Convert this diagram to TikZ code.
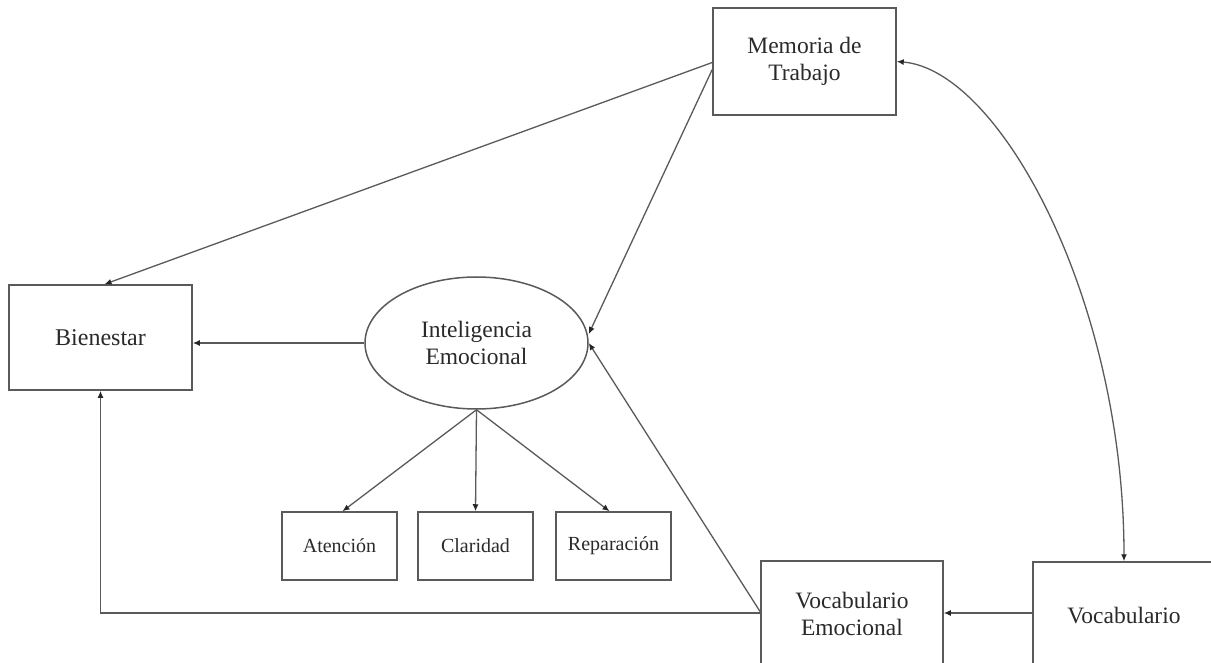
\documentclass[tikz,border=0pt]{standalone}
\usepackage{fontspec}
\setmainfont{Liberation Serif}
\usetikzlibrary{shapes.geometric,arrows.meta}
\definecolor{ln}{HTML}{5A5A5A}
\definecolor{tx}{HTML}{2A2A2A}
\tikzset{
  box/.style={draw=ln,line width=1.5pt,rectangle,inner sep=0pt,align=center,text=tx,font=\fontsize{23.5}{27}\selectfont},
  smallbox/.style={box,font=\fontsize{20}{24}\selectfont},
  latent/.style={draw=ln,line width=1.5pt,ellipse,inner sep=0pt,align=center,text=tx,font=\fontsize{23.5}{27}\selectfont},
  tip/.tip={Latex[length=7pt,width=6pt,color=black!85]},
  arr/.style={draw=ln,line width=1.3pt,-tip},
  darr/.style={draw=ln,line width=1.3pt,tip-tip}
}
\begin{document}
\begin{tikzpicture}[x=1pt,y=-1pt]
\useasboundingbox (0,0) rectangle (1211,663);
\clip (0,0) rectangle (1211,663);
\fill[white] (0,0) rectangle (1211,663);
\node[box,minimum width=183pt,minimum height=107pt] (mem) at (804.5,61.5) {Memoria de\\Trabajo};
\node[box,font=\fontsize{24}{28}\selectfont,minimum width=183pt,minimum height=105pt] (bien) at (100.5,337.5) {Bienestar};
\node[latent,minimum width=223pt,minimum height=132pt] (ie) at (476.5,343) {Inteligencia\\Emocional};
\node[smallbox,minimum width=115pt,minimum height=68pt] (atn) at (339.5,546) {Atención};
\node[smallbox,minimum width=115pt,minimum height=68pt] (clar) at (475.5,546) {Claridad};
\node[smallbox,minimum width=115pt,minimum height=68pt] (rep) at (613.5,546) {Reparación};
\node[box,minimum width=182pt,minimum height=120pt] (ve) at (852,621) {};
\node[text=tx,align=center,font=\fontsize{23.5}{27}\selectfont] (vet) at (852,614) {Vocabulario\\Emocional};
\node[box,minimum width=192pt,minimum height=120pt] (voc) at (1129,622) {};
\node[text=tx,font=\fontsize{23.5}{27}\selectfont] (voct) at (1124,616) {Vocabulario};
\coordinate (vel) at (761,613);
\coordinate (vocl) at (1033,613);
% arrows
\draw[arr] ([yshift=-1pt]mem.west) -- ([xshift=4pt]bien.north);
\draw[arr] ([yshift=-8pt]mem.west) -- ([yshift=9pt]ie.east);
\draw[arr] (ie.west) -- (ie.west -| bien.east);
\draw[arr] (ie.south) -- ([xshift=3pt]atn.north);
\draw[arr] (ie.south) -- (clar.north);
\draw[arr] (ie.south) -- ([xshift=-4pt]rep.north);
\draw[arr] (vel) -- (ie.east);
\draw[arr] (vel) -- (vel -| bien.south) -- (bien.south);
\draw[arr] (vocl) -- (vocl -| ve.east);
\draw[darr] (mem.east) .. controls (1000,70) and (1124,300) .. ([xshift=-5pt]voc.north);
\end{tikzpicture}
\end{document}
